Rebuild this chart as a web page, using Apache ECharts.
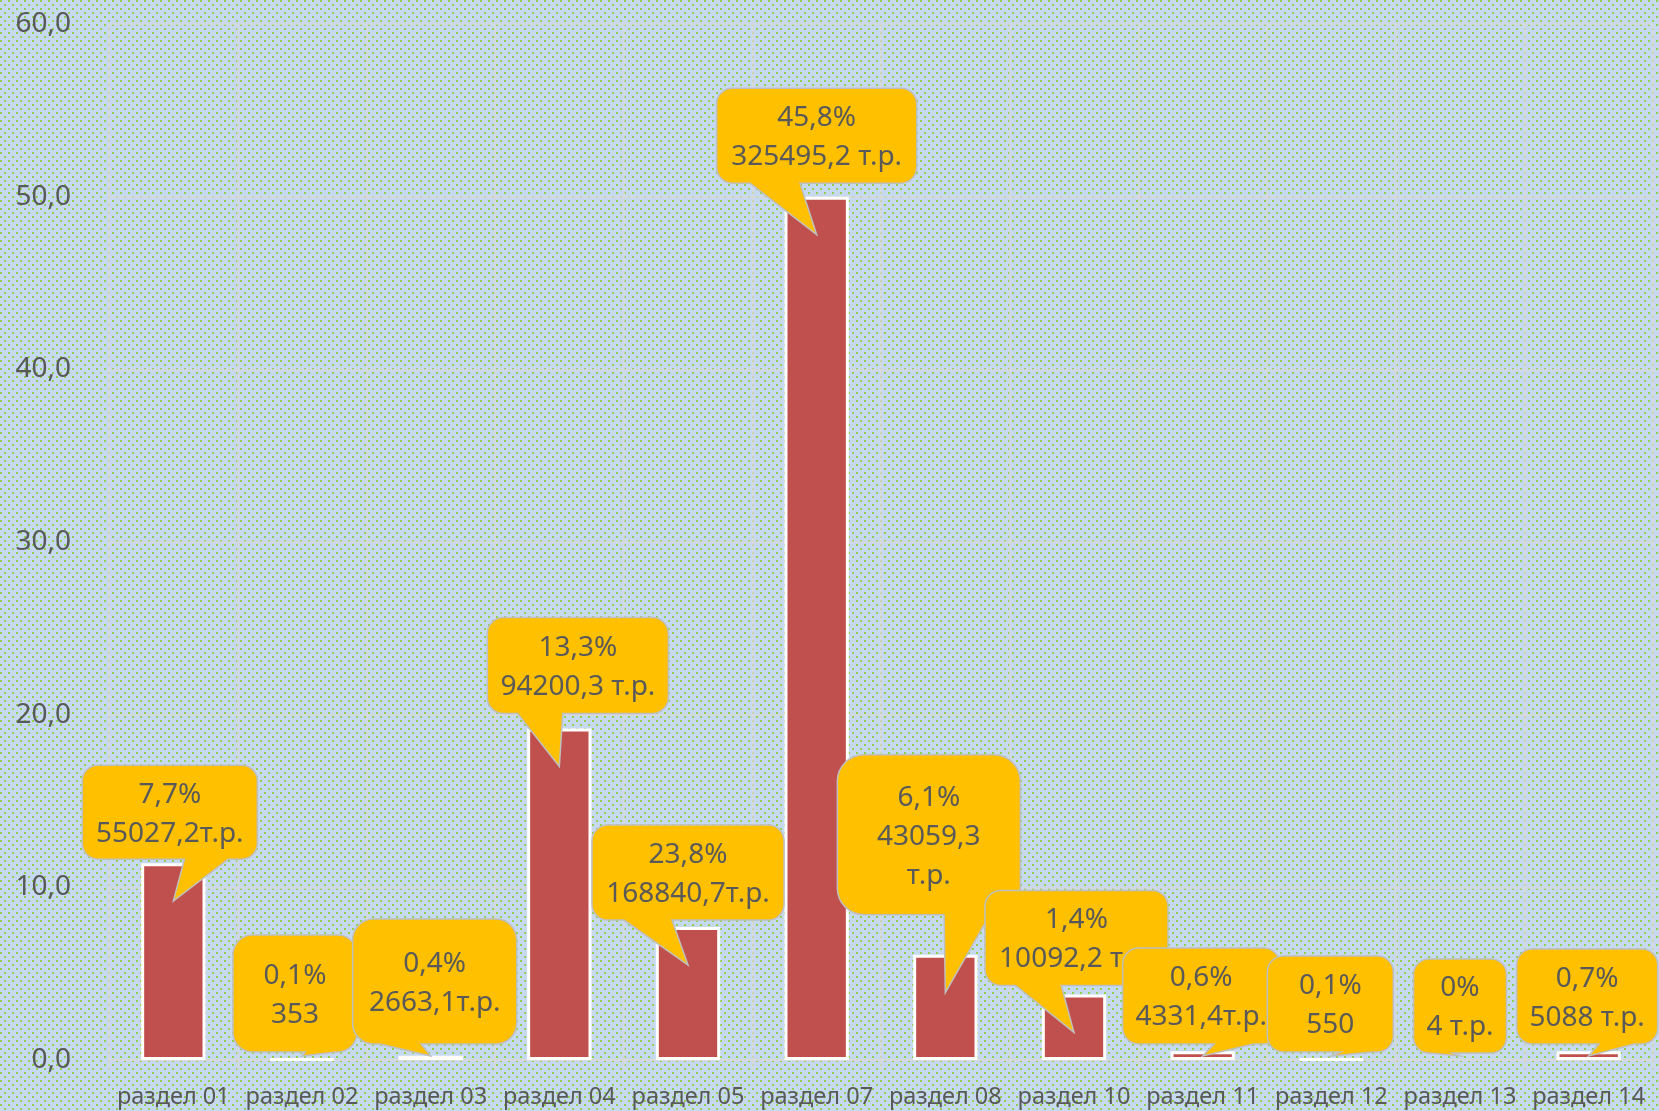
<!DOCTYPE html>
<html>
<head>
<meta charset="utf-8">
<script src="https://cdn.jsdelivr.net/npm/echarts@6/dist/echarts.min.js"></script>
<style>
  html, body { margin: 0; padding: 0; }
  #chart { width: 1659px; height: 1111px; }
</style>
</head>
<body>
<div id="chart"></div>
<script>
var categories = ['раздел 01', 'раздел 02', 'раздел 03', 'раздел 04', 'раздел 05', 'раздел 07',
  'раздел 08', 'раздел 10', 'раздел 11', 'раздел 12', 'раздел 13', 'раздел 14']
var values = [11.4, 0.05, 0.25, 19.2, 7.7, 50.0, 6.1, 3.8, 0.5, 0.05, 0, 0.5]
var shares = ['7,7%', '0,1%', '0,4%', '13,3%', '23,8%', '45,8%', '6,1%', '1,4%', '0,6%', '0,1%', '0%', '0,7%']
var amounts = ['55027,2т.р.', '353', '2663,1т.р.', '94200,3 т.р.', '168840,7т.р.', '325495,2 т.р.',
  '43059,3\nт.р.', '10092,2 т.р.', '4331,4т.р.', '550', '4 т.р.', '5088 т.р.']
var yMin = 0
var yMax = 60
var yStep = 10

// callout boxes: [box centre x - bar centre x, box bottom - tip y, width, height]
var calloutBoxes = [
  [-3.5, -42, 175, 94],
  [-7, -4, 124, 117],
  [4, -12, 164, 125],
  [18.5, -53, 181, 96],
  [0, -45, 192, 95],
  [0, -51.5, 200, 95],
  [-16.5, -78, 183, 160],
  [2.5, -47, 183, 95],
  [-1.5, -12, 157, 96],
  [-1, -4, 126, 96],
  [0, -3, 93, 94],
  [-1.5, -12, 141, 95]
]

var textColor = '#595959'
var gridColor = '#d9d9d9'
var fontFamily = '"Noto Sans", "DejaVu Sans", sans-serif'

function makeDots () {
  var c = document.createElement('canvas')
  c.width = 8
  c.height = 8
  var ctx = c.getContext('2d')
  ctx.fillStyle = '#c6d9f1'
  ctx.fillRect(0, 0, 8, 8)
  ctx.fillStyle = '#92d050'
  ctx.fillRect(0, 0, 2, 2)
  ctx.fillRect(4, 4, 2, 2)
  return c
}

// rounded box with a wedge pointing at (tx, ty), like the office callout shape
function calloutPath (left, top, w, h, tx, ty) {
  var r = Math.min(w, h) * 0.1667
  var right = left + w
  var bottom = top + h
  var right2 = tx > left + w / 2
  var x1 = left + w * (right2 ? 7 : 2) / 12
  var x2 = left + w * (right2 ? 10 : 5) / 12
  return 'M' + (left + r) + ' ' + top +
    ' L' + (right - r) + ' ' + top +
    ' A' + r + ' ' + r + ' 0 0 1 ' + right + ' ' + (top + r) +
    ' L' + right + ' ' + (bottom - r) +
    ' A' + r + ' ' + r + ' 0 0 1 ' + (right - r) + ' ' + bottom +
    ' L' + x2 + ' ' + bottom +
    ' L' + tx + ' ' + ty +
    ' L' + x1 + ' ' + bottom +
    ' L' + (left + r) + ' ' + bottom +
    ' A' + r + ' ' + r + ' 0 0 1 ' + left + ' ' + (bottom - r) +
    ' L' + left + ' ' + (top + r) +
    ' A' + r + ' ' + r + ' 0 0 1 ' + (left + r) + ' ' + top + ' Z'
}

function renderCallout (params, api) {
  var i = api.value(0)
  var top = api.coord([i, api.value(1)])
  var base = api.coord([i, 0])
  var tx = top[0]
  var ty = Math.min(top[1] + 38, base[1] - 4)
  var b = calloutBoxes[i]
  var w = b[2]
  var h = b[3]
  var left = tx + b[0] - w / 2
  var boxTop = ty + b[1] - h
  return {
    type: 'group',
    children: [
      {
        type: 'path',
        shape: { pathData: calloutPath(left, boxTop, w, h, tx, ty) },
        style: { fill: '#ffc000', stroke: '#bfbfbf', lineWidth: 1.5 }
      },
      {
        type: 'text',
        x: left + w / 2,
        y: boxTop + h / 2 + 2,
        style: {
          text: shares[i] + '\n' + amounts[i],
          fill: textColor,
          font: '28px ' + fontFamily,
          lineHeight: 39,
          align: 'center',
          verticalAlign: 'middle',
          textAlign: 'center',
          textVerticalAlign: 'middle'
        }
      }
    ]
  }
}

var chart = echarts.init(document.getElementById('chart'))
chart.setOption({
  backgroundColor: { image: makeDots(), repeat: 'repeat' },
  animation: false,
  grid: { left: 109, right: 6, top: 24, bottom: 51 },
  xAxis: {
    type: 'category',
    data: categories,
    boundaryGap: true,
    axisLine: { lineStyle: { color: gridColor, width: 1.5 } },
    axisTick: { show: true, length: 10, lineStyle: { color: gridColor, width: 1.5 } },
    splitLine: { show: true, lineStyle: { color: gridColor, width: 1.5 } },
    axisLabel: { color: textColor, fontSize: 23.5, fontFamily: fontFamily, margin: 25, interval: 0 }
  },
  yAxis: {
    type: 'value',
    min: yMin,
    max: yMax,
    interval: yStep,
    axisLine: { show: false },
    axisTick: { show: false },
    splitLine: { lineStyle: { color: gridColor, width: 1.5 } },
    axisLabel: {
      color: textColor,
      fontSize: 28,
      fontFamily: fontFamily,
      margin: 38,
      formatter: function (v) { return v.toFixed(1).replace('.', ',') }
    }
  },
  series: [
    {
      type: 'bar',
      // a zero bar gets no white outline
      data: values.map(function (v) {
        return v === 0 ? { value: v, itemStyle: { borderWidth: 0 } } : v
      }),
      barWidth: '50%',
      itemStyle: { color: '#c0504d', borderColor: '#ffffff', borderWidth: 3 }
    },
    {
      type: 'custom',
      renderItem: renderCallout,
      clip: false,
      z: 5,
      encode: { x: 0, y: 1 },
      data: values.map(function (v, i) { return [i, v] })
    }
  ]
})
</script>
</body>
</html>
